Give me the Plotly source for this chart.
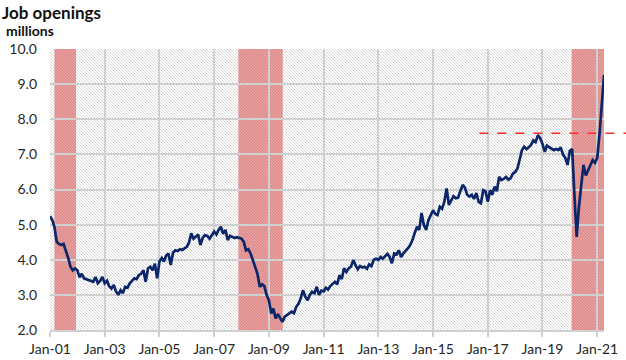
import base64
import pandas as pd
import plotly.graph_objects as go

# Monthly job openings, millions (Jan 2001 - Apr 2021)
job_openings = [
    # 2001
    5.24, 5.13, 4.94, 4.51, 4.45, 4.42, 4.45, 4.27, 4.05, 3.80, 3.70, 3.75,
    # 2002
    3.70, 3.50, 3.60, 3.47, 3.45, 3.42, 3.40, 3.37, 3.51, 3.33, 3.40, 3.51,
    # 2003
    3.33, 3.40, 3.25, 3.18, 3.28, 3.10, 3.00, 3.13, 3.05, 3.23, 3.20, 3.33,
    # 2004
    3.40, 3.47, 3.45, 3.56, 3.60, 3.70, 3.37, 3.75, 3.80, 3.70, 3.89, 3.47,
    # 2005
    3.95, 4.05, 3.95, 4.12, 4.18, 3.85, 4.20, 4.27, 4.25, 4.30, 4.28, 4.33,
    # 2006
    4.37, 4.50, 4.75, 4.60, 4.65, 4.72, 4.42, 4.62, 4.70, 4.68, 4.60, 4.72,
    # 2007
    4.80, 4.72, 4.85, 4.94, 4.74, 4.85, 4.56, 4.68, 4.65, 4.62, 4.64, 4.62,
    # 2008
    4.60, 4.51, 4.27, 4.30, 4.18, 3.99, 3.80, 3.60, 3.23, 3.30, 3.25, 3.00,
    # 2009
    2.85, 2.47, 2.61, 2.33, 2.45, 2.35, 2.23, 2.38, 2.42, 2.47, 2.52, 2.48,
    # 2010
    2.66, 2.75, 2.90, 3.13, 2.95, 2.85, 3.00, 3.09, 3.05, 3.23, 3.00, 3.12,
    # 2011
    3.10, 3.20, 3.15, 3.25, 3.30, 3.37, 3.30, 3.56, 3.45, 3.76, 3.65, 3.75,
    # 2012
    3.80, 3.99, 3.85, 3.73, 3.82, 3.78, 3.80, 3.74, 3.87, 3.82, 4.00, 4.03,
    # 2013
    4.00, 4.08, 4.03, 4.10, 4.17, 4.08, 3.90, 4.18, 4.15, 4.27, 4.08, 4.18,
    # 2014
    4.25, 4.33, 4.42, 4.56, 4.76, 4.94, 4.85, 5.33, 4.99, 4.85, 5.13, 5.25,
    # 2015
    5.41, 5.30, 5.27, 5.51, 5.45, 5.65, 6.03, 5.56, 5.71, 5.81, 5.75, 5.77,
    # 2016
    5.96, 6.13, 6.05, 5.85, 5.80, 5.85, 5.73, 5.90, 5.65, 5.61, 5.98, 5.95,
    # 2017
    5.65, 5.98, 5.85, 6.08, 5.95, 6.36, 6.27, 6.30, 6.36, 6.28, 6.32, 6.45,
    # 2018
    6.50, 6.60, 6.84, 7.12, 7.22, 7.15, 7.20, 7.27, 7.40, 7.35, 7.55, 7.46,
    # 2019
    7.30, 7.07, 7.25, 7.20, 7.17, 7.12, 7.15, 7.12, 7.20, 7.00, 6.90, 6.70,
    # 2020
    7.10, 7.15, 5.90, 4.65, 5.50, 6.20, 6.70, 6.40, 6.55, 6.65, 6.84, 6.76,
    # 2021
    6.90, 7.60, 8.30, 9.26,
]
start_month = "2001-01-01"

recession_start = ["2001-03-01", "2007-11-20", "2020-01-25"]
recession_end = ["2001-12-15", "2009-07-05", "2021-06-01"]

prior_peak = 7.6
prior_peak_from = 0.775  # fraction of plot width where dashed line starts

months = pd.date_range(start_month, periods=len(job_openings), freq="MS")

FONT = "Lato, 'Open Sans', sans-serif"
TXT = "#262626"
GRID = "#d0d0d0"

fig = go.Figure()
fig.add_trace(go.Scatter(
    x=months, y=job_openings, mode="lines",
    line=dict(color="#0c2769", width=2.7),
    hoverinfo="x+y", showlegend=False,
))

for s, e in zip(recession_start, recession_end):
    fig.add_shape(type="rect", xref="x", yref="paper", x0=s, x1=e, y0=0, y1=1,
                  fillcolor="rgba(215,75,75,0.55)", line_width=0, layer="between")

fig.add_shape(type="line", xref="paper", yref="y", x0=prior_peak_from, x1=1.045,
              y0=prior_peak, y1=prior_peak,
              line=dict(color="#ff2a2a", width=1.6, dash="dash"), layer="above")

# diagonal hatch background (pixel-aligned tile)
W, H = 554, 281
svg = (f'<svg xmlns="http://www.w3.org/2000/svg" width="{W}" height="{H}">'
       '<defs><pattern id="h" width="3" height="3" patternUnits="userSpaceOnUse">'
       '<rect width="3" height="3" fill="#ffffff"/>'
       '<path d="M0,0 L3,3 M-1,2 L1,4 M2,-1 L4,1" stroke="#cbcbcb" stroke-width="0.8"/>'
       '</pattern></defs><rect width="100%" height="100%" fill="url(#h)"/></svg>')
src = "data:image/svg+xml;base64," + base64.b64encode(svg.encode()).decode()
fig.add_layout_image(dict(source=src, xref="paper", yref="paper", x=0, y=1,
                          sizex=1, sizey=1, sizing="stretch", xanchor="left",
                          yanchor="top", layer="below"))

fig.add_annotation(text="<b>Job openings</b>", xref="paper", yref="paper",
                   x=-0.09, y=1.175, xanchor="left", yanchor="top", showarrow=False,
                   font=dict(family=FONT, size=17, color="#111111"))
fig.add_annotation(text="<b>millions</b>", xref="paper", yref="paper",
                   x=-0.083, y=1.102, xanchor="left", yanchor="top", showarrow=False,
                   font=dict(family=FONT, size=14, color="#111111"))

fig.update_layout(
    width=626, height=360,
    margin=dict(l=50, r=22, t=49, b=30, autoexpand=False),
    paper_bgcolor="white", plot_bgcolor="white",
    font=dict(family=FONT, size=14, color=TXT),
    xaxis=dict(
        type="date", range=[months[0], months[-1]], automargin=False,
        tick0=start_month, dtick="M24", tickformat="%b-%y",
        showgrid=True, gridcolor=GRID, gridwidth=1.5,
        ticks="outside", ticklen=5, tickcolor=GRID, tickwidth=1.5,
        showline=True, linecolor=GRID, linewidth=1.5,
        zeroline=False, tickfont=dict(size=14, color=TXT),
    ),
    yaxis=dict(
        range=[2, 10], dtick=1, tick0=2, tickformat=".1f", automargin=False,
        showgrid=True, gridcolor=GRID, gridwidth=1.5,
        ticks="", ticklabelstandoff=12, zeroline=False, showline=False,
        tickfont=dict(size=14, color=TXT),
    ),
)

fig.write_html("out.html", config={"displayModeBar": False},
               post_script="document.body.style.margin='0px';document.body.style.overflow='hidden';")
